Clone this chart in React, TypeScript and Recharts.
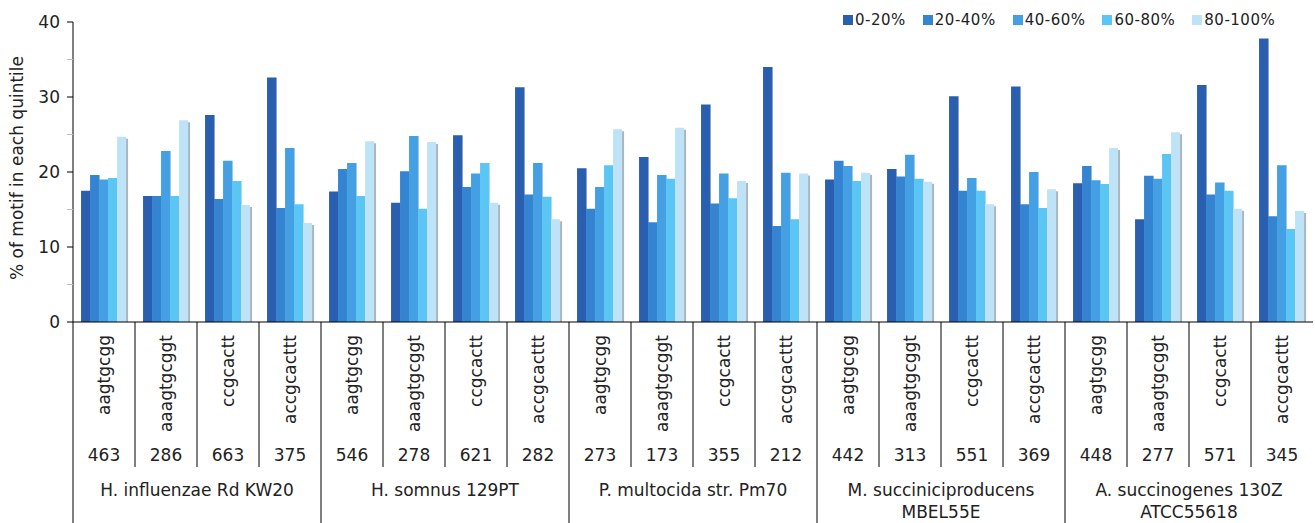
import React from 'react';
import { BarChart, Bar, XAxis, YAxis, Legend } from 'recharts';

const groups = [
  'H. influenzae Rd KW20',
  'H. somnus 129PT',
  'P. multocida str. Pm70',
  'M. succiniciproducens\nMBEL55E',
  'A. succinogenes 130Z\nATCC55618',
];
const motifs = ['aagtgcgg', 'aaagtgcggt', 'ccgcactt', 'accgcacttt'];
const counts = [463, 286, 663, 375, 546, 278, 621, 282, 273, 173, 355, 212, 442, 313, 551, 369, 448, 277, 571, 345];

const seriesNames = ['0-20%', '20-40%', '40-60%', '60-80%', '80-100%'];
const seriesColors = ['#2a5eaf', '#3584d2', '#44a0e2', '#5bc6f4', '#bfe3f6'];

const q0 = [17.5, 16.8, 27.6, 32.6, 17.4, 15.9, 24.9, 31.3, 20.5, 22.0, 29.0, 34.0, 19.0, 20.4, 30.1, 31.4, 18.5, 13.7, 31.6, 37.8];
const q1 = [19.6, 16.8, 16.4, 15.2, 20.4, 20.1, 18.0, 17.0, 15.1, 13.3, 15.8, 12.8, 21.5, 19.4, 17.5, 15.7, 20.8, 19.5, 17.0, 14.1];
const q2 = [19.0, 22.8, 21.5, 23.2, 21.2, 24.8, 19.8, 21.2, 18.0, 19.6, 19.8, 19.9, 20.8, 22.3, 19.2, 20.0, 18.9, 19.1, 18.6, 20.9];
const q3 = [19.2, 16.8, 18.8, 15.7, 16.8, 15.1, 21.2, 16.7, 20.9, 19.1, 16.5, 13.7, 18.8, 19.1, 17.5, 15.2, 18.4, 22.4, 17.5, 12.4];
const q4 = [24.7, 26.9, 15.6, 13.2, 24.1, 24.0, 15.9, 13.7, 25.7, 25.9, 18.8, 19.8, 19.9, 18.7, 15.7, 17.7, 23.2, 25.3, 15.1, 14.8];

const yTicks = [0, 5, 10, 15, 20, 25, 30, 35, 40];

const seriesValues = [q0, q1, q2, q3, q4];
const data = counts.map((c, i) => {
  const row: any = {
    key: String(i),
    motif: motifs[i % 4],
    count: c,
    group: groups[Math.floor(i / 4)],
  };
  seriesValues.forEach((arr, s) => {
    row['q' + s] = arr[i];
  });
  return row;
});

const FONT = '"DejaVu Sans", Verdana, sans-serif';
const TEXT = '#222';

const YTick = (props: any) => {
  const { x, y, payload } = props;
  const major = payload.value % 10 === 0;
  return (
    <g>
      <line x1={x + 7} x2={x + 13} y1={y} y2={y} stroke={major ? '#000' : '#bbb'} strokeWidth={1} />
      {major && (
        <text x={x} y={y} dy="0.36em" textAnchor="end" fontFamily={FONT} fontSize={17} fill={TEXT}>
          {payload.value}
        </text>
      )}
    </g>
  );
};

const XTick = (props: any) => {
  const { x, y, payload } = props;
  const i = typeof payload.index === 'number' ? payload.index : Number(payload.value);
  const half = payload.offset || 31;
  const left = x - half;
  const row = data[i];
  const groupStart = i % 4 === 0;
  const lines = groupStart ? row.group.split('\n') : [];
  return (
    <g>
      <line x1={left} x2={left} y1={y} y2={groupStart ? y + 205 : y + 145} stroke="#000" strokeWidth={1} />
      <text
        transform={`translate(${x + 6},${y + 13}) rotate(-90)`}
        textAnchor="end"
        fontFamily={FONT}
        fontSize={17}
        fill={TEXT}
      >
        {row.motif}
      </text>
      <text x={x} y={y + 133} dy="0.36em" textAnchor="middle" fontFamily={FONT} fontSize={17} fill={TEXT}>
        {row.count}
      </text>
      {lines.map((t: string, k: number) => (
        <text
          key={k}
          x={x + 3 * half}
          y={y + 168 + k * 22}
          dy="0.36em"
          textAnchor="middle"
          fontFamily={FONT}
          fontSize={17}
          fill={TEXT}
        >
          {t}
        </text>
      ))}
    </g>
  );
};

const PlainBar = (props: any) => {
  const { x, y, width, height, fill } = props;
  if (!height || height <= 0) return null;
  return <rect x={x} y={y} width={width + 0.5} height={height} fill={fill} />;
};

const ShadowBar = (props: any) => {
  const { x, y, width, height, fill } = props;
  if (!height || height <= 0) return null;
  return (
    <g>
      <rect x={x + width} y={y + 2} width={2} height={height - 2} fill="#aab4be" />
      <rect x={x} y={y} width={width} height={height} fill={fill} />
    </g>
  );
};

const LegendContent = () => (
  <div style={{ display: 'flex', alignItems: 'center', fontFamily: FONT, fontSize: 15, color: TEXT }}>
    {seriesNames.map((n, s) => (
      <div key={n} style={{ display: 'flex', alignItems: 'center', marginRight: 17 }}>
        <span style={{ width: 10, height: 10, background: seriesColors[s], display: 'inline-block', marginRight: 2 }} />
        <span style={{ letterSpacing: 0.5 }}>{n}</span>
      </div>
    ))}
  </div>
);

const YLabel = (props: any) => {
  const vb = props.viewBox || { x: 0, y: 22, width: 73, height: 300 };
  const cx = vb.x + 17;
  const cy = vb.y + vb.height / 2 - 4;
  return (
    <text
      transform={`translate(${cx},${cy}) rotate(-90)`}
      textAnchor="middle"
      dy="0.36em"
      fontFamily={FONT}
      fontSize={17}
      fill={TEXT}
    >
      % of motif in each quintile
    </text>
  );
};

export default function App() {
  return (
    <div style={{ position: 'absolute', left: 0, top: 0, width: 1315, height: 523, background: '#fff' }}>
      <BarChart
        width={1315}
        height={523}
        data={data}
        margin={{ top: 22, right: 2, left: 0, bottom: 0 }}
        barCategoryGap="13%"
        barGap={0}
      >
        <XAxis
          dataKey="key"
          height={201}
          interval={0}
          tickLine={false}
          tickSize={0}
          tickMargin={0}
          axisLine={{ stroke: '#000' }}
          tick={<XTick />}
        />
        <YAxis
          width={73}
          domain={[0, 40]}
          ticks={yTicks}
          interval={0}
          tickLine={false}
          tickSize={6}
          tickMargin={7}
          axisLine={{ stroke: '#000' }}
          tick={<YTick />}
          label={<YLabel />}
        />
        <Legend
          layout="horizontal"
          verticalAlign="middle"
          align="center"
          content={<LegendContent />}
          wrapperStyle={{ top: 11, left: 843, width: 470, height: 16 }}
        />
        {seriesNames.map((n, s) => (
          <Bar
            key={n}
            dataKey={'q' + s}
            name={n}
            fill={seriesColors[s]}
            isAnimationActive={false}
            shape={s === seriesNames.length - 1 ? <ShadowBar /> : <PlainBar />}
          />
        ))}
      </BarChart>
    </div>
  );
}
